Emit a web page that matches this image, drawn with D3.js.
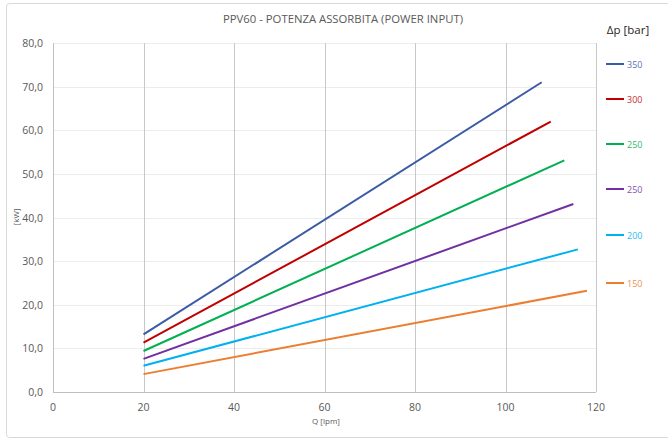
<!DOCTYPE html>
<html>
<head>
<meta charset="utf-8">
<script src="https://cdn.jsdelivr.net/npm/d3@7"></script>
<style>
  body { margin: 0; background: #fff; }
  text { font-family: "Open Sans", "Noto Sans", sans-serif; fill: #595959; }
</style>
</head>
<body>
<svg id="chart" width="668" height="441"></svg>
<script>
"use strict";

var title = 'PPV60 - POTENZA ASSORBITA (POWER INPUT)';
var legendTitle = '\u0394p [bar]';
var seriesNames = ['350', '300', '250', '250', '200', '150'];
var seriesColors = ['#3b5ba5', '#c00000', '#00b050', '#7030a0', '#00b0f0', '#ed7d31'];
var qValues = [
  [20, 108],
  [20, 110],
  [20, 113],
  [20, 115],
  [20, 116],
  [20, 118]
];
var powerValues = [
  [13.2, 71.0],
  [11.3, 62.0],
  [9.4, 53.1],
  [7.6, 43.1],
  [6.0, 32.7],
  [4.1, 23.2]
];
var xTicks = [0, 20, 40, 60, 80, 100, 120];
var yTicks = [0, 10, 20, 30, 40, 50, 60, 70, 80];

var svg = d3.select('#chart');

// outer frame
svg.append('rect')
  .attr('x', 6.5).attr('y', 3.5)
  .attr('width', 680).attr('height', 434)
  .attr('rx', 3)
  .attr('fill', 'none')
  .attr('stroke', '#d9d9d9');

var x = d3.scaleLinear().domain([0, 120]).range([53, 596]);
var y = d3.scaleLinear().domain([0, 80]).range([392, 43]);

// horizontal grid (faint)
svg.selectAll('.hgrid')
  .data(yTicks.slice(1))
  .enter().append('line')
  .attr('x1', x(0)).attr('x2', x(120))
  .attr('y1', function(d) { return Math.round(y(d)) + 0.5; })
  .attr('y2', function(d) { return Math.round(y(d)) + 0.5; })
  .attr('stroke', '#ececec');

// vertical grid
svg.selectAll('.vgrid')
  .data(xTicks.slice(1))
  .enter().append('line')
  .attr('x1', function(d) { return Math.round(x(d)) + 0.5; })
  .attr('x2', function(d) { return Math.round(x(d)) + 0.5; })
  .attr('y1', y(80)).attr('y2', y(0))
  .attr('stroke', '#c8c8c8');

// axes lines
svg.append('line')
  .attr('x1', x(0) + 0.5).attr('x2', x(0) + 0.5)
  .attr('y1', y(80)).attr('y2', y(0))
  .attr('stroke', '#bfbfbf');
svg.append('line')
  .attr('x1', x(0)).attr('x2', x(120))
  .attr('y1', y(0) + 0.5).attr('y2', y(0) + 0.5)
  .attr('stroke', '#bfbfbf');

// y ticks
svg.selectAll('.ylab')
  .data(yTicks)
  .enter().append('text')
  .attr('x', 43)
  .attr('y', function(d) { return y(d) + 4; })
  .attr('text-anchor', 'end')
  .attr('font-size', 10.5)
  .text(function(d) { return d.toFixed(1).replace('.', ','); });

// x ticks
svg.selectAll('.xlab')
  .data(xTicks)
  .enter().append('text')
  .attr('x', function(d) { return x(d); })
  .attr('y', 410.5)
  .attr('text-anchor', 'middle')
  .attr('font-size', 10.5)
  .text(function(d) { return d; });

// axis titles
svg.append('text')
  .attr('x', 326).attr('y', 424)
  .attr('text-anchor', 'middle')
  .attr('font-size', 8)
  .text('Q [lpm]');
svg.append('text')
  .attr('transform', 'translate(19,217) rotate(-90)')
  .attr('text-anchor', 'middle')
  .attr('font-size', 8)
  .text('[kW]');

// title
svg.append('text')
  .attr('x', 343).attr('y', 23)
  .attr('text-anchor', 'middle')
  .attr('font-size', 11)
  .attr('textLength', 240)
  .attr('lengthAdjust', 'spacingAndGlyphs')
  .text(title);

// series lines
var line = d3.line()
  .x(function(d) { return x(d[0]); })
  .y(function(d) { return y(d[1]); });

seriesNames.forEach(function(name, i) {
  var pts = qValues[i].map(function(q, j) { return [q, powerValues[i][j]]; });
  svg.append('path')
    .datum(pts)
    .attr('d', line)
    .attr('fill', 'none')
    .attr('stroke', seriesColors[i])
    .attr('stroke-width', 2);
});

// legend
svg.append('text')
  .attr('x', 628).attr('y', 34)
  .attr('text-anchor', 'middle')
  .attr('font-size', 11.5)
  .style('fill', '#262626')
  .text(legendTitle);

var legendY = [64, 99, 144, 189, 235, 283];
var lg = svg.selectAll('.leg')
  .data(seriesNames)
  .enter().append('g')
  .attr('transform', function(d, i) { return 'translate(0,' + legendY[i] + ')'; });
lg.append('line')
  .attr('x1', 606).attr('x2', 624)
  .attr('y1', 0).attr('y2', 0)
  .attr('stroke', function(d, i) { return seriesColors[i]; })
  .attr('stroke-width', 2);
lg.append('text')
  .attr('x', 627).attr('y', 3.5)
  .attr('font-size', 9)
  .style('fill', function(d, i) { return seriesColors[i]; })
  .style('opacity', 0.85)
  .text(function(d) { return d; });
</script>
</body>
</html>
